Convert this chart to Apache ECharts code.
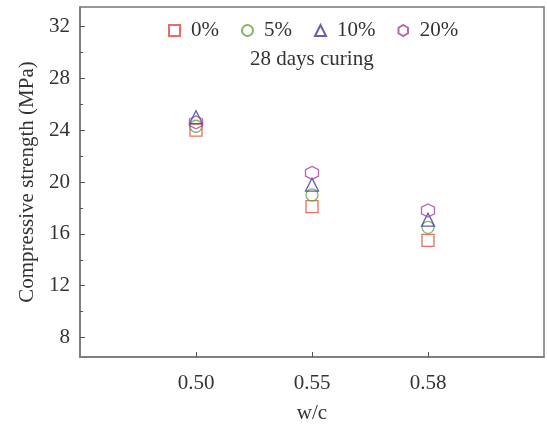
<!DOCTYPE html>
<html>
<head>
<meta charset="utf-8">
<script src="https://cdn.jsdelivr.net/npm/echarts@6/dist/echarts.min.js"></script>
<style>html,body{margin:0;padding:0;background:#fff}#c{width:547px;height:425px}</style>
</head>
<body>
<div id="c"></div>
<script>
const wcLabels = ['0.50', '0.55', '0.58'];
const seriesNames = ['0%', '5%', '10%', '20%'];
const s0 = [24.0, 18.1, 15.5];
const s5 = [24.3, 19.0, 16.5];
const s10 = [25.0, 19.8, 17.1];
const s20 = [24.6, 20.7, 17.8];
const yMajorTicks = [8, 12, 16, 20, 24, 28, 32];
const yMinorTicks = [10, 14, 18, 22, 26, 30];

const hexPath = 'path://M0,-10 L8.66,-5 L8.66,5 L0,10 L-8.66,5 L-8.66,-5 Z';
const colors = ['#e0483f', '#5fa83a', '#3a3a9c', '#a8409e'];
const symbols = ['rect', 'circle', 'triangle', hexPath];
const sizes = [12, 12, 13, 13];
const vals = [s0, s5, s10, s20];
const font = 'Liberation Serif';
const fs = 21;

const chart = echarts.init(document.getElementById('c'));
const series = seriesNames.map((n, k) => ({
  name: n,
  type: 'scatter',
  symbol: symbols[k],
  symbolSize: sizes[k],
  itemStyle: { color: 'rgba(255,255,255,0)', borderColor: colors[k], borderWidth: 1.3 },
  data: vals[k].map((v, i) => [i + 1, v]),
  z: 10 + k
}));
series.push({
  type: 'scatter', yAxisIndex: 1, data: [], silent: true
});

chart.setOption({
  animation: false,
  backgroundColor: '#fff',
  textStyle: { fontFamily: font },
  grid: { left: 80, right: 3, top: 7, bottom: 68, show: true, borderColor: '#777', borderWidth: 1.5, backgroundColor: 'transparent', outerBoundsMode: 'none', containLabel: false },
  legend: {
    data: seriesNames.map((n, k) => ({ name: n, icon: symbols[k] })),
    top: 15, left: 163, itemGap: 22, itemWidth: 11, itemHeight: 11,
    textStyle: { fontFamily: font, fontSize: fs, color: '#333', padding: [0, 0, 0, 6] }
  },
  graphic: [{
    type: 'text', left: 250, top: 49,
    style: { text: '28 days curing', font: fs + 'px "Liberation Serif"', fill: '#333' }
  }],
  xAxis: {
    type: 'value', min: 0, max: 4,
    name: 'w/c', nameLocation: 'middle', nameGap: 46,
    nameTextStyle: { fontFamily: font, fontSize: fs, color: '#333' },
    axisLine: { lineStyle: { color: '#777', width: 1.5 } },
    axisTick: { inside: true, length: 5, customValues: [1, 2, 3], lineStyle: { color: '#555' } },
    axisLabel: { customValues: [1, 2, 3], formatter: v => wcLabels[Math.round(v) - 1] || '', fontFamily: font, fontSize: fs, color: '#333', margin: 16 },
    splitLine: { show: false }
  },
  yAxis: [{
    type: 'value', min: 6.5, max: 33.5,
    name: 'Compressive strength (MPa)', nameLocation: 'middle', nameGap: 42,
    nameTextStyle: { fontFamily: font, fontSize: fs, color: '#333' },
    axisLine: { show: true, lineStyle: { color: '#777', width: 1.5 } },
    axisTick: { show: true, inside: true, length: 5, customValues: yMajorTicks, lineStyle: { color: '#555' } },
    axisLabel: { customValues: yMajorTicks, fontFamily: font, fontSize: fs, color: '#333', margin: 10 },
    splitLine: { show: false }
  }, {
    type: 'value', min: 6.5, max: 33.5, position: 'left',
    axisLine: { show: false },
    axisTick: { show: true, inside: true, length: 3, customValues: yMinorTicks, lineStyle: { color: '#555' } },
    axisLabel: { show: false },
    splitLine: { show: false }
  }],
  series: series
});
</script>
</body>
</html>
